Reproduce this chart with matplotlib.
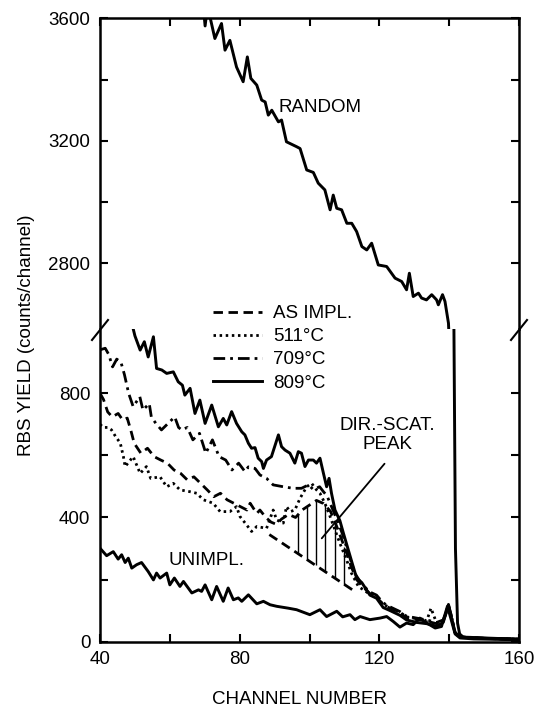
import numpy as np
import matplotlib.pyplot as plt

plt.rcParams['font.family'] = ['Liberation Sans', 'DejaVu Sans']

# RBS spectra, channel number vs counts/channel
random_ch = [69.5, 70.1, 70.8, 72.9, 74.8, 75.8, 77.2, 79.1, 81.0, 82.2, 83.2, 84.9,
             86.3, 87.3, 88.2, 89.2, 91.1, 92.0, 93.4, 96.3, 97.3, 99.2, 101.1, 102.5,
             104.4, 105.9, 106.8, 107.8, 109.2, 110.7, 112.1, 113.5, 115.0, 116.4,
             117.8, 119.7, 122.1, 124.5, 126.4, 127.8, 128.6, 129.7, 131.2, 132.1,
             133.5, 135.0, 136.4, 136.9, 138.1, 138.8, 139.8, 140.4, 141.0, 141.8,
             142.4, 143.0, 144, 146, 148, 150, 152, 154, 156, 158, 160]
random_counts = [3650, 3575, 3640, 3534, 3583, 3496, 3528, 3441, 3393, 3474, 3404, 3382,
                 3333, 3327, 3284, 3300, 3262, 3268, 3197, 3181, 3175, 3105, 3097, 3062,
                 3040, 2975, 3023, 2980, 2975, 2931, 2931, 2904, 2855, 2844,
                 2866, 2795, 2790, 2752, 2741, 2714, 2768, 2692, 2703, 2687,
                 2681, 2698, 2681, 2665, 2698, 2676, 2605, 2450, 1600, 300,
                 60, 25, 15, 12, 13, 11, 10, 10, 9, 9, 8]

t809_ch = [48.8, 50.0, 51.5, 52.7, 53.8, 55.3, 56.2, 57.7, 59.1, 61.0, 62.4, 63.6, 64.3,
           65.8, 67.2, 68.6, 70.1, 72.0, 73.9, 75.3, 76.3, 77.7, 79.1, 80.6, 81.5, 82.5,
           83.4, 84.4, 85.3, 86.3, 86.8, 87.7, 89.1, 91.1, 92.0, 93.0, 94.4, 95.8, 96.8,
           97.7, 98.7, 99.7, 101.1, 102.0, 103.0, 104.0, 104.9, 105.6, 106.3, 107.3,
           108.7, 109.7, 111.1, 112.3, 113.5, 115.0, 117.3, 119.2, 121.1, 123.1, 125.9,
           127.8, 130.7, 133.6, 136.4, 138.3, 139.8, 140.7, 141.7, 143.1, 146, 150, 155, 160]
t809_counts = [1040, 985, 939, 966, 917, 982, 880, 875, 864, 869, 837, 826, 794,
               816, 735, 778, 703, 762, 692, 719, 698, 741, 703, 676, 666, 639,
               623, 625, 591, 580, 558, 585, 596, 666, 628, 617, 607, 575, 612,
               607, 564, 585, 585, 575, 591, 542, 499, 526, 478, 424,
               390, 350, 296, 250, 205, 190, 150, 140, 110, 100, 85,
               70, 62, 58, 50, 62, 120, 75, 30, 15, 14, 12, 10, 8]

t709_ch = [40.0, 41.5, 42.5, 43.6, 44.8, 46.0, 47.0, 48.2, 49.5, 51.4, 52.3, 54.1, 54.7,
           56.0, 57.6, 59.5, 61.4, 62.5, 63.4, 65.0, 66.6, 68.5, 70.3, 72.2, 74.1, 76.0,
           77.8, 79.7, 81.5, 82.5, 84.4, 85.8, 87.7, 89.6, 92.5, 95.3, 97.7, 99.7, 101.1,
           102.9, 104.0, 105.0, 106.5, 108.0, 109.5, 111.0, 113, 115, 117.3, 119.2, 121.1,
           123.1, 125.9, 127.8, 130.7, 133.6, 136.4, 138.3, 139.8, 140.7, 141.7, 143.1,
           147, 152, 156, 160]
t709_counts = [940, 945, 925, 885, 910, 900, 860, 800, 757, 789, 746, 767, 724,
               703, 682, 703, 724, 690, 682, 690, 650, 671, 607, 650, 596, 585,
               553, 575, 548, 563, 558, 537, 526, 505, 499, 494, 494, 505, 490,
               499, 483, 470, 430, 390, 345, 290, 220, 185, 160, 150, 125,
               112, 97, 82, 76, 70, 62, 70, 118, 80, 28, 16,
               12, 10, 9, 8]

asimpl_ch = [40.0, 41.0, 42.2, 43.5, 45.2, 46.5, 47.8, 48.8, 49.8, 51.7, 53.6, 55.5, 57.4,
             59.3, 61.2, 63.1, 65.0, 66.9, 68.8, 70.7, 72.6, 74.5, 76.4, 78.3, 80.2, 82.1,
             83.0, 84.9, 85.8, 87.5, 89, 90.5, 92, 94, 96, 98, 100, 102, 104, 106, 107.5,
             109, 110.5, 112, 113.5, 115, 117.3, 119.2, 121.1, 123.1, 125.9, 127.8, 130.7,
             133.6, 136.4, 138.3, 139.8, 140.7, 141.7, 143.1, 147, 152, 156, 160]
asimpl_counts = [800, 780, 740, 724, 735, 714, 720, 682, 639, 607, 623, 596, 585,
                 575, 553, 542, 521, 531, 510, 489, 467, 478, 457, 446, 435, 424,
                 446, 413, 424, 400, 385, 378, 395, 410, 400, 425, 440, 455, 445, 420, 380,
                 335, 290, 240, 200, 180, 155, 145, 118, 108, 92, 78, 72,
                 66, 58, 66, 112, 78, 26, 15, 11, 10, 9, 8]

t511_ch = [40.0, 41.0, 42.3, 43.3, 44.5, 45.8, 46.7, 47.2, 49.5, 51.5, 53.3, 54.5, 57.2,
           59.1, 61.0, 62.9, 65.8, 67.7, 69.6, 72.4, 74.4, 77.2, 79.1, 80.1, 82.0, 83.4,
           84.9, 87.7, 89.6, 90.6, 92.5, 93.4, 94.5, 95.8, 97.3, 99.2, 100.6, 102.0,
           103.0, 104.4, 105.9, 107.3, 108.7, 110.6, 112.0, 114.0, 117.0, 119.2, 121.1,
           123.1, 125.9, 127.8, 130.7, 133.6, 134.8, 136.4, 138.3, 139.8, 140.7, 141.7,
           143.1, 147, 152, 156, 160]
t511_counts = [700, 690, 690, 682, 660, 640, 596, 564, 596, 542, 564, 526, 531,
               499, 510, 489, 483, 478, 457, 446, 419, 419, 435, 403, 376, 355,
               371, 365, 424, 392, 382, 435, 419, 424, 462, 499, 510, 489,
               478, 446, 403, 360, 317, 264, 221, 178, 155, 145, 120,
               110, 95, 80, 74, 68, 108, 60, 68, 116, 80, 27, 16,
               12, 10, 9, 8]

unimpl_ch = [40.0, 41.9, 43.8, 45.2, 46.2, 47.2, 48.1, 49.1, 50.5, 51.9, 53.8, 55.3, 56.2,
             57.2, 59.1, 60.0, 61.3, 62.9, 63.9, 66.3, 68.2, 69.1, 70.1, 72.0, 73.4, 75.3,
             76.7, 78.2, 79.6, 80.6, 82.5, 84.9, 86.8, 88.7, 90.6, 93.9, 96.3, 100.1, 103.0,
             104.9, 107.8, 109.5, 111.6, 113.0, 114.5, 117.3, 120.2, 122.1, 124.0, 125.9,
             127.8, 129.7, 131.6, 133.6, 136.0, 137.8, 139.5, 140.6, 141.7, 143.1, 147,
             152, 156, 160]
unimpl_counts = [301, 277, 290, 266, 280, 255, 269, 237, 248, 255, 226, 199, 221,
                 205, 221, 183, 205, 178, 194, 157, 167, 162, 183, 135, 178, 130,
                 173, 135, 141, 130, 151, 122, 130, 119, 114, 108, 103, 87, 103,
                 81, 98, 80, 87, 71, 81, 71, 76, 81, 65, 47,
                 60, 55, 76, 60, 44, 49, 114, 70, 25, 12, 9,
                 8, 7, 6]

# dechanneling background under the direct-scattering peak
bg_ch = [88.5, 113.5]
bg_counts = [345, 158]
hatch_ch = [96.8, 99.3, 101.8, 104.4, 107.2, 110.0]

legend_labels = ['AS IMPL.', '511\u00b0C', '709\u00b0C', '809\u00b0C']
xticks = [40, 60, 80, 100, 120, 140, 160]
xtick_labels = ['40', '', '80', '', '120', '', '160']
yticks_lo = [0, 200, 400, 600, 800]
ytick_labels_lo = ['0', '', '400', '', '800']
yticks_hi = [2800, 3000, 3200, 3400, 3600]
ytick_labels_hi = ['2800', '', '3200', '', '3600']

DASHED = (0, (3.4, 2.0))
DOTTED = (0, (0.9, 1.3))
DASHDOT = (0, (4.2, 1.8, 1.0, 1.8))
FS = 13.5

fig = plt.figure(figsize=(5.39, 7.11), dpi=100)
left, width = 100 / 539, 419 / 539
ax_hi = fig.add_axes([left, 1 - 329 / 711, width, 310.7 / 711])
ax_lo = fig.add_axes([left, 1 - 641.7 / 711, width, 312.7 / 711])

ax_hi.set_ylim(2586, 3600)
ax_lo.set_ylim(0, 1007)
for ax in (ax_hi, ax_lo):
    ax.set_xlim(40, 160)
    ax.set_xticks(xticks)
    for s in ax.spines.values():
        s.set_linewidth(1.8)
    ax.tick_params(direction='in', length=6, width=1.5, labelsize=FS, right=True, pad=7)

ax_hi.spines['bottom'].set_visible(False)
ax_hi.tick_params(top=True, bottom=False, labelbottom=False)
ax_hi.set_yticks(yticks_hi)
ax_hi.set_yticklabels(ytick_labels_hi)

ax_lo.spines['top'].set_visible(False)
ax_lo.tick_params(top=False)
ax_lo.set_xticklabels(xtick_labels)
ax_lo.set_yticks(yticks_lo)
ax_lo.set_yticklabels(ytick_labels_lo)

# random spectrum crosses the break, so it goes on both panels
for ax in (ax_hi, ax_lo):
    ax.plot(random_ch, random_counts, color='k', lw=2.1)

h_as, = ax_lo.plot(asimpl_ch, asimpl_counts, color='k', lw=2.0, ls=DASHED)
h_511, = ax_lo.plot(t511_ch, t511_counts, color='k', lw=2.0, ls=DOTTED)
h_709, = ax_lo.plot(t709_ch, t709_counts, color='k', lw=2.0, ls=DASHDOT)
h_809, = ax_lo.plot(t809_ch, t809_counts, color='k', lw=2.1)
ax_lo.plot(unimpl_ch, unimpl_counts, color='k', lw=2.1)

# background line and hatching of the peak area
ax_lo.plot(bg_ch, bg_counts, color='k', lw=2.0, ls=DASHED)
hatch_lo = np.interp(hatch_ch, bg_ch, bg_counts)
hatch_hi = np.interp(hatch_ch, asimpl_ch, asimpl_counts)
ax_lo.vlines(hatch_ch, hatch_lo, hatch_hi, color='k', lw=1.0)

ax_hi.text(91.0, 3310, 'RANDOM', fontsize=FS, ha='left', va='center')
ax_lo.text(59.5, 262, 'UNIMPL.', fontsize=FS, ha='left', va='center')
ax_lo.text(122.2, 666, 'DIR.-SCAT.\nPEAK', fontsize=FS, ha='center', va='center',
           linespacing=1.15)
ax_lo.annotate('', xy=(103.0, 326), xytext=(122.0, 580),
               arrowprops=dict(arrowstyle='-', color='k', lw=1.3))

# axis break marks on the left and right spines
for xa in (0, 1):
    ax_lo.plot([xa - 8 / 419, xa + 8 / 419], [1 - 11 / 312.7, 1 + 9 / 312.7],
               transform=ax_lo.transAxes, color='k', lw=1.5, clip_on=False)

fig.legend([h_as, h_511, h_709, h_809], legend_labels, loc='upper left',
           bbox_to_anchor=(213 / 539, 1 - 305 / 711), frameon=False, fontsize=FS,
           handlelength=2.6, handletextpad=0.6, labelspacing=0.32, borderpad=0,
           borderaxespad=0)

fig.text(27 / 539, 1 - 335 / 711, 'RBS YIELD (counts/channel)', rotation=90,
         ha='center', va='center', fontsize=FS)
fig.text(299 / 539, 1 - 700 / 711, 'CHANNEL NUMBER', ha='center', va='center',
         fontsize=FS)

fig.savefig('out.png', dpi=100)
